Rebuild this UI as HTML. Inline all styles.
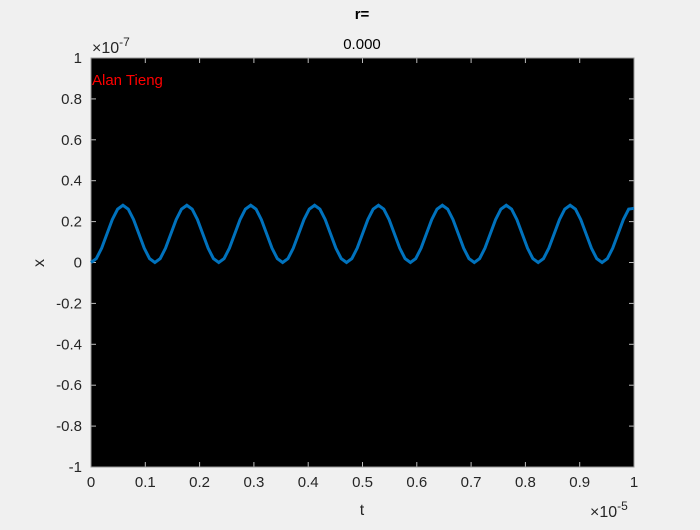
<!DOCTYPE html>
<html><head><meta charset="utf-8"><style>
body{margin:0;background:#f0f0f0;width:700px;height:525px;overflow:hidden;font-family:"Liberation Sans",sans-serif}
</style></head><body>
<svg id="chart" width="700" height="525" xmlns="http://www.w3.org/2000/svg" font-family="Liberation Sans, sans-serif">
<rect width="700" height="525" fill="#f0f0f0"/>
<rect x="91" y="58" width="543" height="409" fill="#000"/>
<g id="ticks"></g>
<path id="series" fill="none" stroke="#0072bd" stroke-width="3"/>
<text x="362" y="19" font-size="15" font-weight="bold" text-anchor="middle" fill="#000">r=</text>
<text x="362" y="49" font-size="15" text-anchor="middle" fill="#000">0.000</text>
<text x="92" y="53" font-size="16" fill="#262626">×10<tspan font-size="12" dy="-7">-7</tspan></text>
<text x="590" y="517" font-size="16" fill="#262626">×10<tspan font-size="12" dy="-7">-5</tspan></text>
<text x="92" y="85" font-size="15" fill="#ff0000">Alan Tieng</text>
<text x="362" y="515" font-size="16" text-anchor="middle" fill="#262626">t</text>
<text x="44" y="263" font-size="16" text-anchor="middle" fill="#262626" transform="rotate(-90 44 263)">x</text>
</svg>
<script>
const xTicks=[0,0.1,0.2,0.3,0.4,0.5,0.6,0.7,0.8,0.9,1];
const xTickLabels=["0","0.1","0.2","0.3","0.4","0.5","0.6","0.7","0.8","0.9","1"];
const yTicks=[-1,-0.8,-0.6,-0.4,-0.2,0,0.2,0.4,0.6,0.8,1];
const yTickLabels=["-1","-0.8","-0.6","-0.4","-0.2","0","0.2","0.4","0.6","0.8","1"];
const tEnd=1;
const xValues=[
0,.019,.07,.14,.21,.261,.28,.261,.21,.14,.07,.019,
0,.019,.07,.14,.21,.261,.28,.261,.21,.14,.07,.019,
0,.019,.07,.14,.21,.261,.28,.261,.21,.14,.07,.019,
0,.019,.07,.14,.21,.261,.28,.261,.21,.14,.07,.019,
0,.019,.07,.14,.21,.261,.28,.261,.21,.14,.07,.019,
0,.019,.07,.14,.21,.261,.28,.261,.21,.14,.07,.019,
0,.019,.07,.14,.21,.261,.28,.261,.21,.14,.07,.019,
0,.019,.07,.14,.21,.261,.28,.261,.21,.14,.07,.019,
0,.019,.07,.14,.21,.261,.265];
const X0=91,X1=634,Y0=467,Y1=58;
const sx=v=>X0+(v-0)/(1-0)*(X1-X0);
const sy=v=>Y0-(v+1)/2*(Y0-Y1);
const NS="http://www.w3.org/2000/svg";
const g=document.getElementById('ticks');
function el(tag,attrs){const e=document.createElementNS(NS,tag);for(const k in attrs)e.setAttribute(k,attrs[k]);g.appendChild(e);return e;}
xTicks.forEach((v,i)=>{
 const x=sx(v);
 const t1=el('line',{x1:x,x2:x,y1:Y0,y2:Y0-5,stroke:'#bbb'});
 
 
 const t2=el('line',{x1:x,x2:x,y1:Y1,y2:Y1+5,stroke:'#bbb'});
 
 
 const tx=el('text',{x:x,y:Y0+20,'font-size':15,'text-anchor':'middle',fill:'#262626'});
 tx.textContent=xTickLabels[i];
 
 
});
yTicks.forEach((v,i)=>{
 const y=sy(v);
 const t1=el('line',{x1:X0,x2:X0+5,y1:y,y2:y,stroke:'#bbb'});
 
 
 const t2=el('line',{x1:X1,x2:X1-5,y1:y,y2:y,stroke:'#bbb'});
 
 
 const tx=el('text',{x:X0-9,y:y+5,'font-size':15,'text-anchor':'end',fill:'#262626'});
 tx.textContent=yTickLabels[i];
 
 
});
const fr=el('rect',{x:X0,y:Y1,width:X1-X0,height:Y0-Y1,fill:'none',stroke:'#999'});


const n=xValues.length-1;
document.getElementById('series').setAttribute('d',xValues.map((v,i)=>(i?'L':'M')+sx(i/n*tEnd).toFixed(2)+','+sy(v).toFixed(2)).join(''));
</script>
</body></html>
